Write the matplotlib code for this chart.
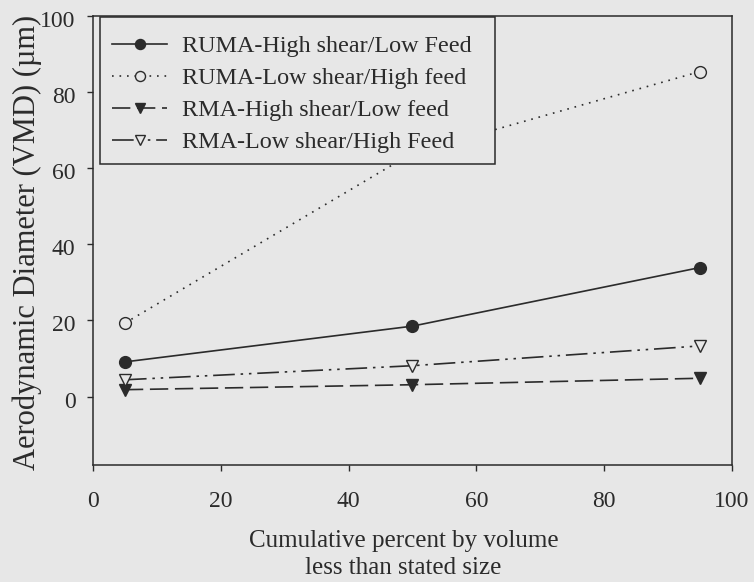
import matplotlib
matplotlib.use('Agg')
import matplotlib.pyplot as plt
from matplotlib.patches import Rectangle
from matplotlib.transforms import ScaledTranslation

# ── data ────────────────────────────────────────────────────────────
pct = [5, 50, 95]
ruma_high_shear = [9.1, 18.5, 33.9]
ruma_low_shear = [19.3, 64.0, 85.4]
rma_high_shear = [1.8, 3.1, 4.8]
rma_low_shear = [4.4, 8.1, 13.3]
labels = ['RUMA-High shear/Low Feed', 'RUMA-Low shear/High feed',
          'RMA-High shear/Low feed', 'RMA-Low shear/High Feed']

plt.rcParams['font.family'] = ['Liberation Serif', 'DejaVu Serif']

BG = '#e7e7e7'
INK = '#2b2b2b'

fig = plt.figure(figsize=(7.54, 5.82), dpi=100)
fig.patch.set_facecolor(BG)
ax = fig.add_axes([0.1233, 0.201, 0.8475, 0.7715])
ax.set_facecolor(BG)

kw = dict(color=INK, lw=1.2, ms=8.5, mec=INK, mew=1.0)
ax.plot(pct, ruma_high_shear, '-', marker='o', mfc=INK, label=labels[0], **kw)
ax.plot(pct, ruma_low_shear, ':', marker='o', mfc=BG, label=labels[1],
        dashes=(1, 3.5), **kw)
ax.plot(pct, rma_high_shear, '--', marker='v', mfc=INK, label=labels[2],
        dashes=(11, 4), **kw)
ax.plot(pct, rma_low_shear, '-', marker='v', mfc=BG, label=labels[3],
        dashes=(13, 3.5, 1.5, 3.5, 1.5, 3.5), **kw)

ax.set_xlim(0, 100)
ax.set_ylim(-18, 100)
ax.set_xticks([0, 20, 40, 60, 80, 100])
ax.set_yticks([0, 20, 40, 60, 80, 100])
ax.tick_params(direction='out', length=4.5, width=1.0, color=INK,
               labelsize=17, labelcolor=INK)
ax.tick_params(axis='x', pad=14)
ax.tick_params(axis='y', pad=8)
# y tick labels sit a little below their ticks in the scan
shift = ScaledTranslation(0, -3 / 100, fig.dpi_scale_trans)
for lbl in ax.get_yticklabels():
    lbl.set_transform(lbl.get_transform() + shift)
for s in ax.spines.values():
    s.set_color(INK)
    s.set_linewidth(1.1)

ax.set_xlabel('Cumulative percent by volume\nless than stated size',
              fontsize=18, color=INK, linespacing=1.33)
ax.xaxis.set_label_coords(0.486, -0.144, transform=ax.transAxes)
ax.xaxis.label.set_va('top')
ax.set_ylabel('Aerodynamic Diameter (VMD) (µm)', fontsize=22, color=INK)
ax.yaxis.set_label_coords(-0.08, 0.495, transform=ax.transAxes)

# legend box drawn separately: the scan has a tighter bottom margin
ax.add_patch(Rectangle((0.011, 0.670), 0.618, 0.328, transform=ax.transAxes,
                       fc=BG, ec=INK, lw=1.1, zorder=4.5, clip_on=False))
leg = ax.legend(loc='upper left', bbox_to_anchor=(0.0, 0.999),
                borderaxespad=0, fontsize=17.4, frameon=False,
                handlelength=2.3, handletextpad=0.62, labelspacing=0.42,
                borderpad=0.78, markerscale=0.85)
for t in leg.get_texts():
    t.set_color(INK)

fig.savefig('out.png', dpi=100, facecolor=BG)
